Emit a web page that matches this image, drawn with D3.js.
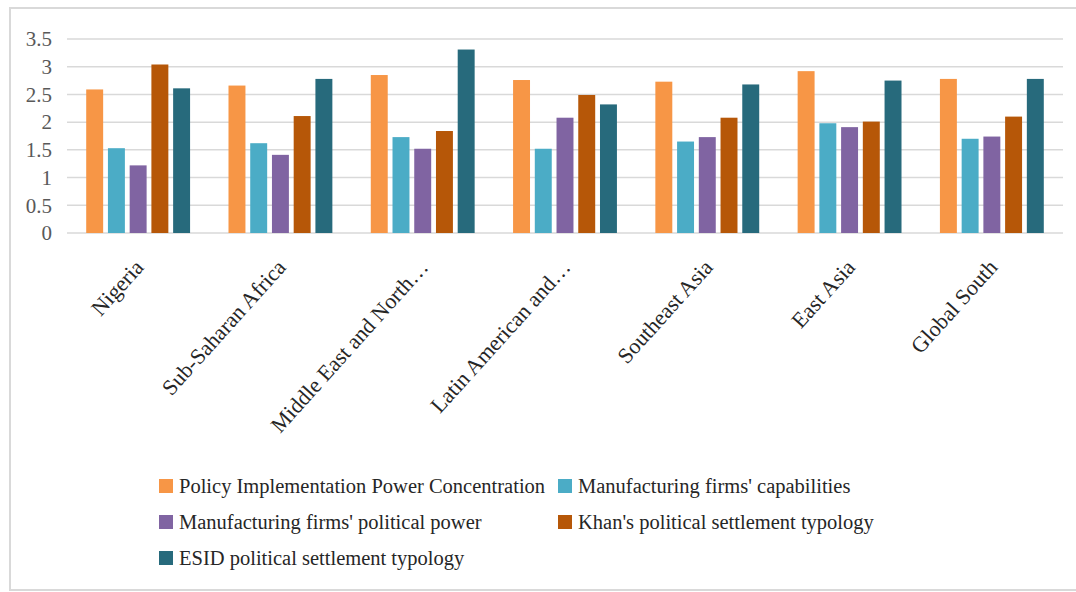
<!DOCTYPE html>
<html>
<head>
<meta charset="utf-8">
<script src="https://cdn.jsdelivr.net/npm/d3@7"></script>
<style>
  body { margin: 0; background: #fff; }
  text { font-family: "Liberation Serif", "Times New Roman", serif; }
</style>
</head>
<body>
<div id="chart"></div>
<script>
// data
var regions = ["Nigeria", "Sub-Saharan Africa", "Middle East and North\u2026",
  "Latin American and\u2026", "Southeast Asia", "East Asia", "Global South"];
var seriesNames = ["Policy Implementation Power Concentration",
  "Manufacturing firms' capabilities",
  "Manufacturing firms' political power",
  "Khan's political settlement typology",
  "ESID political settlement typology"];
var policyPower = [2.59, 2.66, 2.85, 2.76, 2.73, 2.92, 2.78];
var firmCapabilities = [1.53, 1.62, 1.73, 1.52, 1.65, 1.98, 1.70];
var firmPolitical = [1.22, 1.41, 1.52, 2.08, 1.73, 1.91, 1.74];
var khanTypology = [3.04, 2.11, 1.84, 2.49, 2.08, 2.01, 2.10];
var esidTypology = [2.61, 2.78, 3.31, 2.32, 2.68, 2.75, 2.78];
var yTicks = [0, 0.5, 1, 1.5, 2, 2.5, 3, 3.5];
var colors = ["#F79646", "#4BACC6", "#8064A2", "#B65708", "#276A7C"];

var allSeries = [policyPower, firmCapabilities, firmPolitical, khanTypology, esidTypology];

var svgWidth = 1076;
var svgHeight = 592;
var margin = { top: 39, right: 13, bottom: 359, left: 67 };
var width = svgWidth - margin.left - margin.right;
var height = svgHeight - margin.top - margin.bottom;

var svg = d3.select("#chart")
    .append("svg")
    .attr("width", svgWidth)
    .attr("height", svgHeight);

// chart area border
svg.append("rect")
    .attr("x", 10)
    .attr("y", 8)
    .attr("width", 1100)
    .attr("height", 582)
    .attr("fill", "none")
    .attr("stroke", "#d9d9d9")
    .attr("stroke-width", 2);

var chartGroup = svg.append("g")
    .attr("transform", `translate(${margin.left}, ${margin.top})`);

// scales
var x0 = d3.scaleBand()
    .domain(regions)
    .range([0, width])
    .paddingInner(0.27)
    .paddingOuter(0.135);

var x1 = d3.scaleBand()
    .domain(d3.range(seriesNames.length))
    .range([0, x0.bandwidth()])
    .paddingInner(0.22);

var y = d3.scaleLinear()
    .domain([0, 3.5])
    .range([height, 0]);

// gridlines
chartGroup.append("g")
    .selectAll("line")
    .data(yTicks)
    .enter()
    .append("line")
    .attr("x1", 0)
    .attr("x2", width)
    .attr("y1", d => y(d))
    .attr("y2", d => y(d))
    .attr("stroke", "#d9d9d9")
    .attr("stroke-width", 1.5);

// y axis labels
var yAxis = d3.axisLeft(y)
    .tickValues(yTicks)
    .tickSize(0)
    .tickPadding(15)
    .tickFormat(d3.format("~g"));

var yAxisG = chartGroup.append("g").call(yAxis);
yAxisG.select(".domain").remove();
yAxisG.selectAll("text")
    .attr("font-size", "21px")
    .attr("fill", "#595959");

// bars
var groups = chartGroup.selectAll(".region")
    .data(regions)
    .enter()
    .append("g")
    .attr("class", "region")
    .attr("transform", d => `translate(${x0(d)}, 0)`);

groups.selectAll("rect")
    .data((d, i) => allSeries.map((s, k) => ({ k: k, value: s[i] })))
    .enter()
    .append("rect")
    .attr("x", d => x1(d.k))
    .attr("y", d => y(d.value))
    .attr("width", x1.bandwidth())
    .attr("height", d => height - y(d.value))
    .attr("fill", d => colors[d.k]);

// x labels, rotated
chartGroup.append("g")
    .selectAll("text")
    .data(regions)
    .enter()
    .append("text")
    .attr("transform", d => `translate(${x0(d) + x0.bandwidth() / 2 + 1}, ${height + 30}) rotate(-48)`)
    .attr("text-anchor", "end")
    .attr("dy", "0.35em")
    .attr("font-size", "22px")
    .attr("fill", "#262626")
    .text(d => d);

// legend
var legendPos = [
  { x: 159, y: 486 }, { x: 558, y: 486 },
  { x: 159, y: 522 }, { x: 558, y: 522 },
  { x: 159, y: 558 }
];

var legend = svg.append("g")
    .selectAll("g")
    .data(seriesNames)
    .enter()
    .append("g")
    .attr("transform", (d, i) => `translate(${legendPos[i].x}, ${legendPos[i].y})`);

legend.append("rect")
    .attr("x", 0)
    .attr("y", -7)
    .attr("width", 14)
    .attr("height", 14)
    .attr("fill", (d, i) => colors[i]);

legend.append("text")
    .attr("x", 20)
    .attr("dy", "0.35em")
    .attr("font-size", "20.5px")
    .attr("fill", "#262626")
    .text(d => d);
</script>
</body>
</html>
